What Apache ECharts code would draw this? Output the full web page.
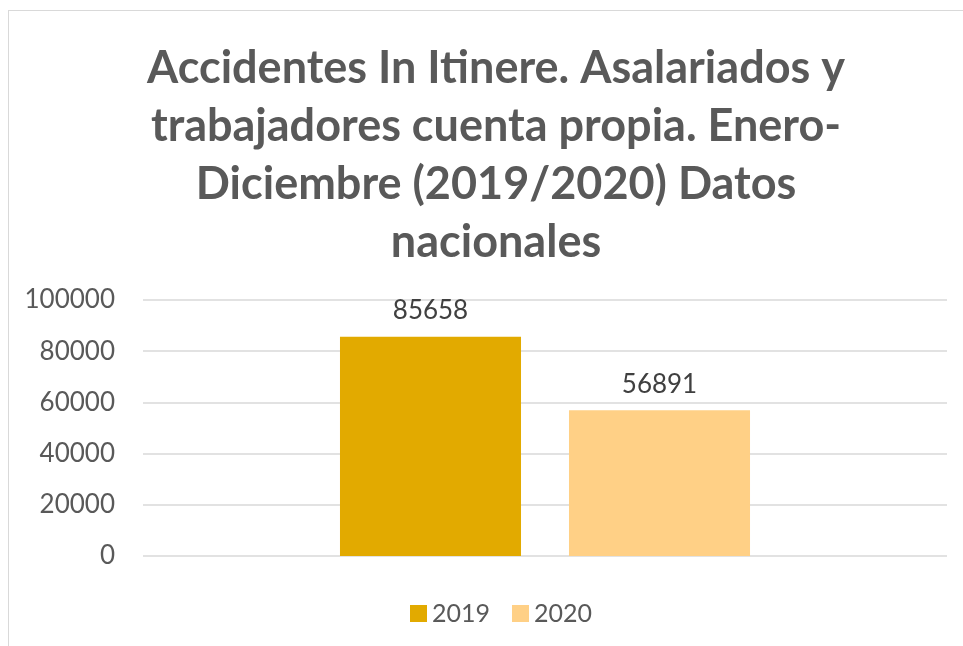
<!DOCTYPE html>
<html>
<head>
<meta charset="utf-8">
<script src="https://cdn.jsdelivr.net/npm/echarts@6/dist/echarts.min.js"></script>
<style>
  html, body { margin: 0; padding: 0; background: #fff; }
  #frame { position: absolute; left: 8px; top: 10px; width: 1000px; height: 700px; border: 1px solid #d9d9d9; }
  #chart { position: absolute; left: 0; top: 0; width: 963px; height: 646px; }
</style>
</head>
<body>
<div id="frame"></div>
<div id="chart"></div>
<script>
var titleText = 'Accidentes In Itinere. Asalariados y\ntrabajadores cuenta propia. Enero-\nDiciembre (2019/2020) Datos\nnacionales';
var categories = ['Total'];
var seriesNames = ['2019', '2020'];
var values2019 = [85658];
var values2020 = [56891];
var colors = ['#E2AA00', '#FFD086'];

var myChart = echarts.init(document.getElementById('chart'));
var font = 'Lato, "Open Sans", sans-serif';

myChart.setOption({
    animation: false,
    color: colors,
    title: {
        text: titleText,
        left: 491,
        top: 34,
        textAlign: 'center',
        textStyle: {
            fontFamily: font,
            fontSize: 45,
            fontWeight: 'bold',
            color: '#595959',
            lineHeight: 58
        }
    },
    legend: {
        data: seriesNames,
        bottom: 15,
        left: 405,
        itemWidth: 17,
        itemHeight: 17,
        itemGap: 22,
        itemTextGap: 7,
        icon: 'rect',
        textStyle: { fontFamily: font, fontSize: 25, color: '#595959' }
    },
    grid: { left: 143, right: 16, top: 300, bottom: 90, containLabel: false },
    xAxis: {
        type: 'category',
        data: categories,
        axisLine: { show: false },
        axisTick: { show: false },
        axisLabel: { show: false }
    },
    yAxis: {
        type: 'value',
        min: 0,
        max: 100000,
        interval: 20000,
        axisLine: { show: false },
        axisTick: { show: false },
        axisLabel: {
            fontFamily: font, fontSize: 26, color: '#595959', margin: 28,
            formatter: function (v) { return String(v); }
        },
        splitLine: { lineStyle: { color: '#d9d9d9', width: 1.5 } }
    },
    series: [
        {
            name: seriesNames[0],
            type: 'bar',
            data: values2019,
            barGap: '26.5%',
            barCategoryGap: '49%',
            label: { show: true, position: 'top', distance: 13, fontFamily: font, fontSize: 26, color: '#404040' }
        },
        {
            name: seriesNames[1],
            type: 'bar',
            data: values2020,
            barGap: '26.5%',
            barCategoryGap: '49%',
            label: { show: true, position: 'top', distance: 13, fontFamily: font, fontSize: 26, color: '#404040' }
        }
    ]
});
</script>
</body>
</html>
